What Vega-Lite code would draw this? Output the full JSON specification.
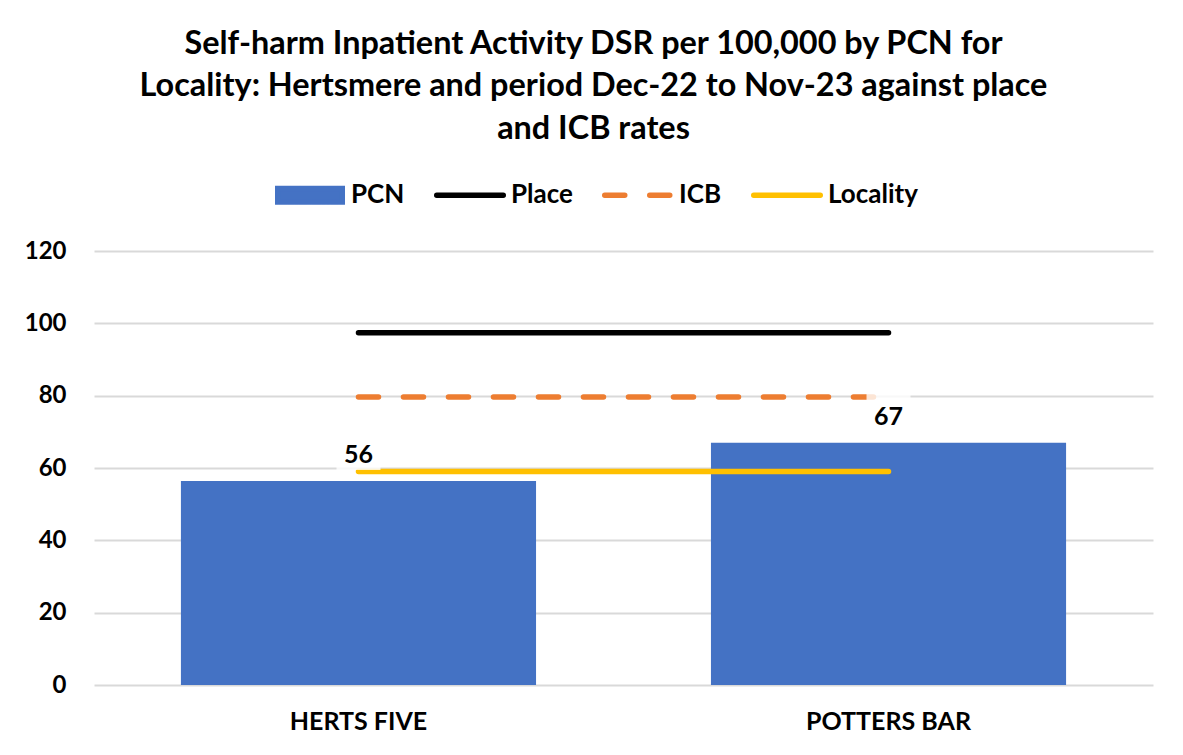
{
  "$schema": "https://vega.github.io/schema/vega-lite/v6.json",
  "width": 1059,
  "height": 434,
  "autosize": {"type": "none"},
  "padding": {"left": 94, "top": 251, "right": 30, "bottom": 70},
  "background": "white",
  "title": {
    "text": [
      "Self-harm Inpatient Activity DSR per 100,000 by PCN for",
      "Locality: Hertsmere and period Dec-22 to Nov-23 against place",
      "and ICB rates"
    ],
    "font": "Lato",
    "fontSize": 32.4,
    "fontWeight": "bold",
    "color": "#000000",
    "lineHeight": 42.5,
    "anchor": "middle",
    "frame": "group",
    "dx": -30,
    "offset": 12
  },
  "datasets": {
    "pcn": [
      {"pcn": "HERTS FIVE", "series": "PCN", "value": 56.4},
      {"pcn": "POTTERS BAR", "series": "PCN", "value": 67.0}
    ],
    "benchmarks": [
      {"pcn": "HERTS FIVE", "series": "Place", "value": 97.4},
      {"pcn": "POTTERS BAR", "series": "Place", "value": 97.4},
      {"pcn": "HERTS FIVE", "series": "ICB", "value": 79.6},
      {"pcn": "POTTERS BAR", "series": "ICB", "value": 79.6},
      {"pcn": "HERTS FIVE", "series": "Locality", "value": 59.0},
      {"pcn": "POTTERS BAR", "series": "Locality", "value": 59.0}
    ]
  },
  "encoding": {
    "x": {
      "field": "pcn",
      "type": "nominal",
      "sort": ["HERTS FIVE", "POTTERS BAR"],
      "scale": {"paddingInner": 0.33, "paddingOuter": 0.164},
      "axis": {
        "title": null,
        "domain": false,
        "ticks": false,
        "labelAngle": 0,
        "labelPadding": 24,
        "labelFont": "Lato",
        "labelFontSize": 25,
        "labelFontWeight": "bold",
        "labelColor": "#000000"
      }
    },
    "y": {
      "field": "value",
      "type": "quantitative",
      "scale": {"domain": [0, 120], "nice": false},
      "axis": {
        "title": null,
        "values": [0, 20, 40, 60, 80, 100, 120],
        "domain": false,
        "ticks": false,
        "grid": true,
        "gridColor": "#D9D9D9",
        "gridWidth": 2,
        "labelPadding": 28,
        "labelFont": "Lato",
        "labelFontSize": 24,
        "labelFontWeight": "bold",
        "labelColor": "#000000"
      }
    }
  },
  "layer": [
    {
      "data": {"name": "pcn"},
      "mark": {"type": "bar"},
      "encoding": {
        "color": {
          "field": "series",
          "type": "nominal",
          "scale": {
            "domain": ["PCN", "Place", "ICB", "Locality"],
            "range": ["#4472C4", "#000000", "#ED7D31", "#FFC000"]
          },
          "legend": {
            "title": null,
            "orient": "none",
            "legendX": 178,
            "legendY": -94,
            "direction": "horizontal",
            "padding": 0,
            "symbolSize": 4900,
            "symbolStrokeWidth": 5.5,
            "labelOffset": 3,
            "columnPadding": 19,
            "labelFont": "Lato",
            "labelFontSize": 26,
            "labelFontWeight": "bold",
            "labelColor": "#000000",
            "encode": {
              "symbols": {
                "update": {
                  "shape": {"signal": "datum.value === 'PCN' ? 'M-1,-0.27M-1,0.27M-0.921,-0.193H0.921V0.193H-0.921Z' : 'M-1,-0.27M-1,0.27M-0.95,0H0.95'"},
                  "fill": {"signal": "datum.value === 'PCN' ? '#4472C4' : 'transparent'"},
                  "fillOpacity": {"signal": "datum.value === 'PCN' ? 1 : 0"},
                  "stroke": {"signal": "({'PCN': '#4472C4', 'Place': '#000000', 'ICB': '#ED7D31', 'Locality': '#FFC000'})[datum.value]"},
                  "strokeOpacity": {"value": 1},
                  "strokeDash": {"signal": "datum.value === 'ICB' ? [20, 25] : [1, 0]"},
                  "strokeCap": {"signal": "datum.value === 'PCN' ? 'butt' : 'round'"},
                  "strokeJoin": {"value": "miter"},
                  "opacity": {"value": 1}
                }
              }
            }
          }
        }
      }
    },
    {
      "data": {"name": "benchmarks"},
      "mark": {"type": "line", "strokeWidth": 5.5, "strokeCap": "round"},
      "encoding": {
        "color": {"field": "series", "type": "nominal"},
        "detail": {"field": "series"},
        "strokeDash": {
          "condition": {"test": "datum.series === 'ICB'", "value": [20, 25]},
          "value": [1, 0]
        }
      }
    },
    {
      "data": {"name": "pcn"},
      "mark": {
        "type": "point",
        "shape": "M-1,-0.86H1V0.86H-1Z",
        "size": 1936,
        "filled": true,
        "color": "#FFFFFF",
        "opacity": 0.8,
        "strokeWidth": 0,
        "yOffset": -30
      },
      "encoding": {}
    },
    {
      "data": {"name": "pcn"},
      "mark": {
        "type": "text",
        "baseline": "alphabetic",
        "align": "center",
        "dy": -18,
        "font": "Lato",
        "fontSize": 25,
        "fontWeight": "bold",
        "color": "#000000"
      },
      "encoding": {
        "text": {"field": "value", "type": "quantitative", "format": ".0f"}
      }
    }
  ],
  "config": {
    "view": {"stroke": null}
  }
}
